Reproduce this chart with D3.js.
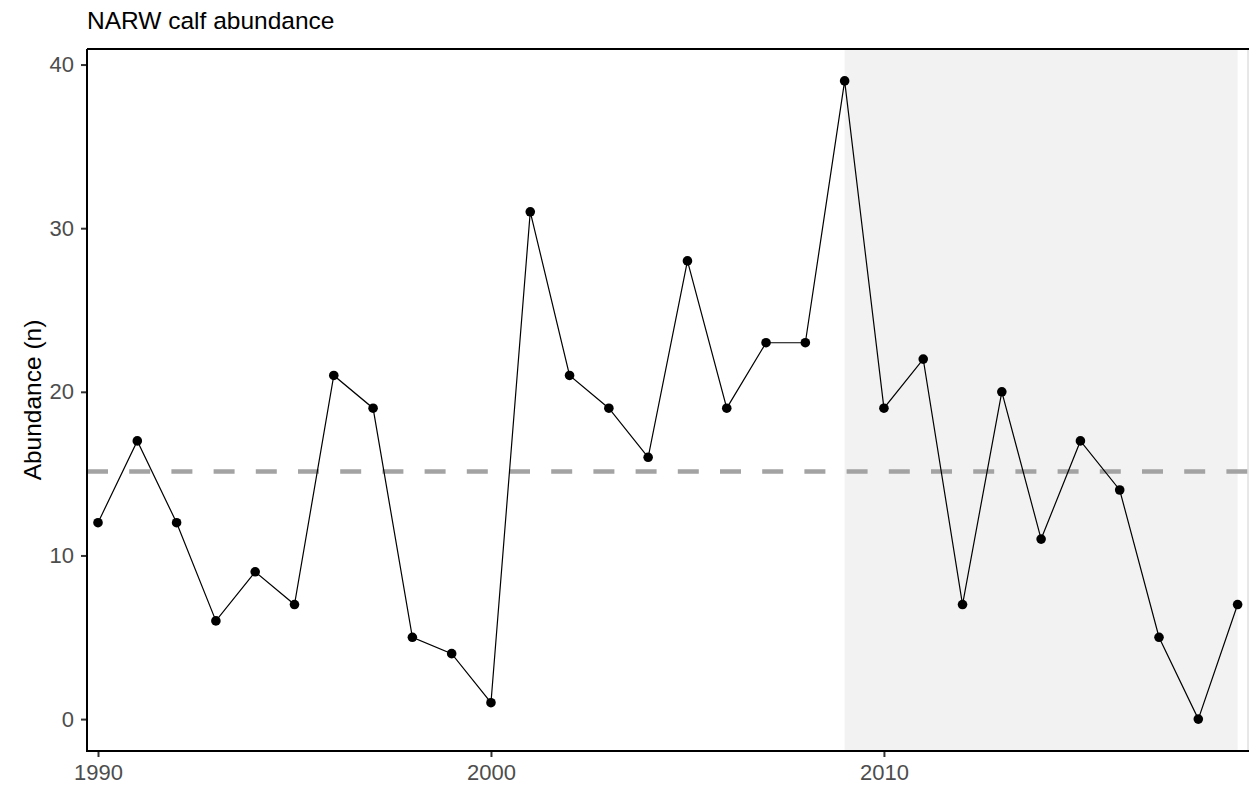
<!DOCTYPE html>
<html><head><meta charset="utf-8">
<script src="https://cdn.jsdelivr.net/npm/d3@7"></script>
<style>body{margin:0;background:#fff;} svg{display:block;font-family:"Liberation Sans",Arial,sans-serif;}</style>
</head><body>
<svg id="c" width="1249" height="788"></svg>
<script>
const years = [1990,1991,1992,1993,1994,1995,1996,1997,1998,1999,2000,2001,2002,2003,2004,2005,2006,2007,2008,2009,2010,2011,2012,2013,2014,2015,2016,2017,2018,2019];
const calves = [12,17,12,6,9,7,21,19,5,4,1,31,21,19,16,28,19,23,23,39,19,22,7,20,11,17,14,5,0,7];
const shadeYears = [2009,2019];
const xTicks = [1990,2000,2010];
const yTicks = [0,10,20,30,40];
const title = "NARW calf abundance";
const yTitle = "Abundance (n)";
const meanVal = d3.mean(calves);

const svg = d3.select("#c");
const L=87,R=1249,T=49,B=751;
const x = d3.scaleLinear().domain([1989.72,2019.29]).range([L,R]);
const y = d3.scaleLinear().domain([-1.95,40.95]).range([B,T]);

svg.append("rect").attr("x",x(shadeYears[0])).attr("width",x(shadeYears[1])-x(shadeYears[0]))
  .attr("y",T).attr("height",B-T).attr("fill","#F2F2F2");

svg.append("line").attr("x1",L).attr("x2",R).attr("y1",y(meanVal)).attr("y2",y(meanVal))
  .attr("stroke","#A3A3A3").attr("stroke-width",4.5).attr("stroke-dasharray","21 21.2");

const data = years.map((d,i)=>({yr:d,v:calves[i]}));
svg.append("path").datum(data).attr("fill","none").attr("stroke","#000").attr("stroke-width",1.2)
  .attr("d",d3.line().x(d=>x(d.yr)).y(d=>y(d.v)));
svg.selectAll("circle.p").data(data).join("circle").attr("class","p")
  .attr("cx",d=>x(d.yr)).attr("cy",d=>y(d.v)).attr("r",4.8).attr("fill","#000");

// border lines
svg.append("line").attr("x1",R-1).attr("x2",R-1).attr("y1",T).attr("y2",B).attr("stroke","#d0d0d0").attr("stroke-width",1);
svg.append("path").attr("d",`M${L},${T}H${R}M${L},${T}V${B}H${R}`).attr("fill","none").attr("stroke","#000").attr("stroke-width",2);

// axes
const xa = svg.append("g").attr("transform",`translate(0,${B+1})`)
  .call(d3.axisBottom(x).tickValues(xTicks).tickFormat(d3.format("d")).tickSize(5).tickPadding(7));
const ya = svg.append("g").attr("transform",`translate(${L-1},0)`)
  .call(d3.axisLeft(y).tickValues(yTicks).tickSize(5).tickPadding(7));
[xa,ya].forEach(a=>{
  a.select(".domain").remove();
  a.selectAll(".tick line").attr("stroke","#333").attr("stroke-width",2);
  a.selectAll(".tick text").attr("fill","#4D4D4D").style("font-size","22px").style("font-family","Liberation Sans, Arial, sans-serif");
});

svg.append("text").attr("x",L).attr("y",29).text(title).attr("fill","#000").style("font-size","24.5px");
svg.append("text").attr("transform",`translate(41,${(T+B)/2}) rotate(-90)`).attr("text-anchor","middle")
  .text(yTitle).attr("fill","#000").style("font-size","24.5px");
</script>
</body></html>
